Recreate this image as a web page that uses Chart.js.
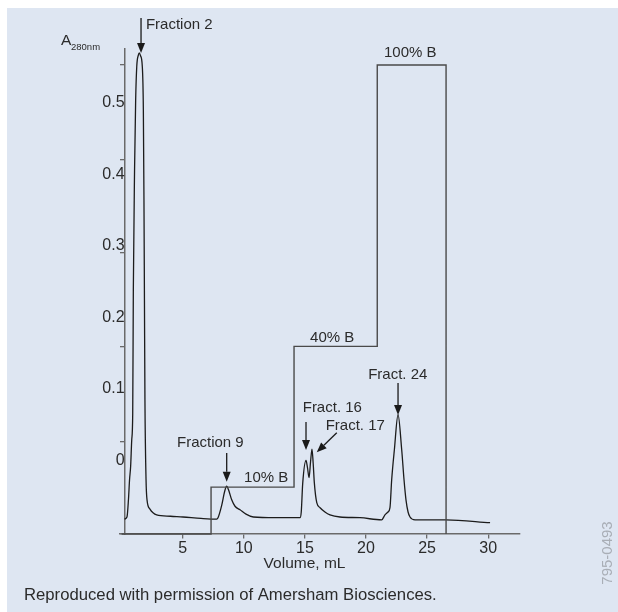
<!DOCTYPE html>
<html><head><meta charset="utf-8">
<script src="https://cdn.jsdelivr.net/npm/chart.js@4/dist/chart.umd.min.js"></script>
<style>html,body{margin:0;padding:0;background:#fff;} #wrap{width:618px;height:612px;position:relative;}</style>
</head><body><div id="wrap"><canvas id="c"></canvas></div>
<script>
// ---- data ----
const volumeML = [0.24,0.44,0.56,0.65,0.74,0.83,0.91,0.96,1.06,1.15,1.24,1.37,1.45,1.55,1.69,1.78,1.83,1.87,1.91,2.00,2.08,2.32,2.57,2.87,4.00,5.02,6.50,7.78,7.89,8.20,8.42,8.60,8.75,9.01,9.28,9.69,10.18,10.78,12.55,14.60,14.70,14.82,15.09,15.21,15.34,15.46,15.58,15.68,15.77,15.97,16.24,16.64,17.05,17.87,19.51,21.28,21.55,21.80,21.96,22.10,22.32,22.62,22.92,23.11,23.27,23.44,23.60,24.01,26.55,30.15];
const absorbance = [-0.082,-0.079,-0.055,-0.027,-0.008,0.029,0.066,0.238,0.406,0.504,0.551,0.567,0.570,0.566,0.552,0.490,0.364,0.224,0.085,-0.027,-0.055,-0.068,-0.073,-0.076,-0.078,-0.079,-0.081,-0.082,-0.080,-0.062,-0.044,-0.036,-0.041,-0.055,-0.064,-0.069,-0.075,-0.079,-0.080,-0.080,-0.072,-0.032,0.000,-0.010,-0.024,-0.002,0.016,-0.005,-0.031,-0.059,-0.066,-0.072,-0.076,-0.079,-0.080,-0.083,-0.076,-0.072,-0.066,-0.027,0.015,0.064,0.015,-0.027,-0.055,-0.072,-0.079,-0.083,-0.083,-0.087];
const gradientVolume = [0, 7.32, 7.32, 14.11, 14.11, 20.92, 20.92, 26.55, 26.55];
const gradientPercentB = [0, 0, 10, 10, 40, 40, 100, 100, 0];
const xTickValues = [5, 10, 15, 20, 25, 30];
const yLabelValues = [0, 0.1, 0.2, 0.3, 0.4, 0.5];
const yTickMarkValues = [-0.1028, 0.0259, 0.1587, 0.2902, 0.4203, 0.5531];

const peakArrows = [
  {label:'Fraction 2', tipX:1.59, tipY:0.570, dx:0, dy:-35, textX:1.99, textY:0.609, align:'left'},
  {label:'Fraction 9', tipX:8.60, tipY:-0.0297, dx:0, dy:-28.7, textX:7.26, textY:0.0249, align:'center'},
  {label:'Fract. 16', tipX:15.09, tipY:0.0147, dx:0, dy:-28, textX:14.82, textY:0.0734, align:'left'},
  {label:'Fract. 17', tipX:15.97, tipY:0.0115, dx:20, dy:-19.6, textX:16.70, textY:0.0487, align:'left'},
  {label:'Fract. 24', tipX:22.62, tipY:0.0636, dx:0, dy:-32, textX:22.60, textY:0.1196, align:'center'}
];
const stepLabels = [
  {label:'10% B', x:10.02, b:12.0},
  {label:'40% B', x:15.42, b:41.8},
  {label:'100% B', x:21.47, b:102.5}
];

const FONT = "'Liberation Sans', Arial, Helvetica, sans-serif";
const TEXT = '#2b2b2b';
const AXIS = '#6a6a6a';

const decor = {
  id: 'decor',
  beforeDraw(chart) {
    const c = chart.ctx;
    c.save();
    c.fillStyle = '#ffffff';
    c.fillRect(0, 0, chart.width, chart.height);
    c.fillStyle = '#dee6f2';
    c.fillRect(7, 8, chart.width - 7, chart.height - 8);
    c.restore();
  },
  afterDraw(chart) {
    const c = chart.ctx, xs = chart.scales.x, ys = chart.scales.y, yb = chart.scales.yB;
    const ca = chart.chartArea;
    c.save();
    c.fillStyle = TEXT;
    c.textBaseline = 'middle';
    function txt(s, x, y, align, size, color) {
      c.font = size + 'px ' + FONT;
      c.textAlign = align;
      c.fillStyle = color || TEXT;
      c.fillText(s, x, y);
    }
    // arrows + labels
    peakArrows.forEach(a => {
      const tx = xs.getPixelForValue(a.tipX), ty = ys.getPixelForValue(a.tipY);
      const sx = tx + a.dx, sy = ty + a.dy;
      const ang = Math.atan2(ty - sy, tx - sx);
      const hl = 10, hw = 4;
      const bx = tx - hl * Math.cos(ang), by = ty - hl * Math.sin(ang);
      c.strokeStyle = '#1a1a1a'; c.lineWidth = 1.3;
      c.beginPath(); c.moveTo(sx, sy); c.lineTo(bx, by); c.stroke();
      c.fillStyle = '#1a1a1a';
      c.beginPath();
      c.moveTo(tx, ty);
      c.lineTo(bx + hw * Math.sin(ang), by - hw * Math.cos(ang));
      c.lineTo(bx - hw * Math.sin(ang), by + hw * Math.cos(ang));
      c.closePath(); c.fill();
      txt(a.label, xs.getPixelForValue(a.textX), ys.getPixelForValue(a.textY), a.align, 15);
    });
    stepLabels.forEach(s => {
      txt(s.label, xs.getPixelForValue(s.x), yb.getPixelForValue(s.b), 'left', 15);
    });
    // axis titles
    txt('A', 61, 41, 'left', 15.5);
    txt('280nm', 71, 47, 'left', 9.5);
    txt('Volume, mL', xs.getPixelForValue(14.97), ca.bottom + 30, 'center', 15.5);
    // footer
    txt('Reproduced with permission of Amersham Biosciences.', 24, 595, 'left', 16.7);
    c.save();
    c.translate(608, 553);
    c.rotate(-Math.PI / 2);
    txt('795-0493', 0, 0, 'center', 15, '#a9aeb6');
    c.restore();
    c.restore();
  }
};

const chromData = volumeML.map((v, i) => ({x: v, y: absorbance[i]}));
const gradData = gradientVolume.map((v, i) => ({x: v, y: gradientPercentB[i]}));

new Chart(document.getElementById('c'), {
  type: 'line',
  data: {
    datasets: [
      {label: 'Gradient', data: gradData, yAxisID: 'yB', borderColor: '#4a4a4a', borderWidth: 1.4,
       pointRadius: 0, tension: 0, fill: false, clip: false},
      {label: 'A280', data: chromData, yAxisID: 'y', borderColor: '#1c1c1c', borderWidth: 1.3,
       pointRadius: 0, cubicInterpolationMode: 'monotone', fill: false, clip: false}
    ]
  },
  options: {
    responsive: true, maintainAspectRatio: false, animation: false,
    layout: {padding: {left: 120, right: 98, top: 49, bottom: 78}},
    plugins: {legend: {display: false}, tooltip: {enabled: false}},
    scales: {
      x: {
        type: 'linear', position: {y: -0.1028}, min: -0.131, max: 32.6,
        afterBuildTicks: s => { s.ticks = xTickValues.map(v => ({value: v})); },
        ticks: {color: TEXT, font: {family: FONT, size: 16}, padding: 1, maxRotation: 0,
                callback: v => String(v)},
        grid: {display: true, drawOnChartArea: false, drawTicks: true, tickLength: 4, color: AXIS, lineWidth: 1.3},
        border: {display: true, color: AXIS, width: 1.5}
      },
      y: {
        type: 'linear', position: {x: 0.24}, min: -0.1028, max: 0.5755,
        afterBuildTicks: s => { s.ticks = yLabelValues.map(v => ({value: v})); },
        ticks: {color: TEXT, font: {family: FONT, size: 16}, padding: 0,
                callback: v => String(v)},
        grid: {display: true, drawOnChartArea: false, drawTicks: false, tickLength: 0},
        border: {display: true, color: AXIS, width: 1.5}
      },
      yt: {
        type: 'linear', position: {x: 0.24}, min: -0.1028, max: 0.5755,
        afterBuildTicks: s => { s.ticks = yTickMarkValues.map(v => ({value: v})); },
        ticks: {display: true, callback: () => '', padding: 0},
        grid: {display: true, drawOnChartArea: false, drawTicks: true, tickLength: 5, color: AXIS, lineWidth: 1.3},
        border: {display: false}
      },
      yB: {type: 'linear', display: false, min: 0, max: 103.4}
    }
  },
  plugins: [decor]
});
</script>
</body></html>
